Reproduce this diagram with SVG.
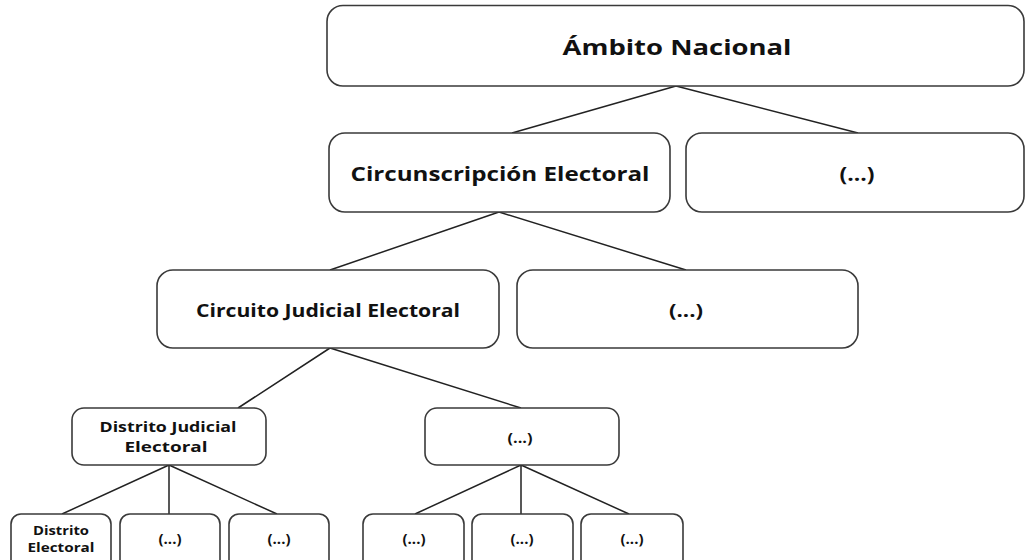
<svg xmlns="http://www.w3.org/2000/svg" width="1027" height="560" viewBox="0 0 1027 560">
<style>
.box{fill:#fff;stroke:#3a3a3a;stroke-width:1.6}
.t{font-family:"Open Sans","Liberation Sans",sans-serif;font-weight:bold;fill:#111;text-anchor:middle}
.c{stroke:#222;stroke-width:1.5;fill:none}
</style>
<rect width="1027" height="560" fill="#fff"/>
<g id="connectors">
<path class="c" d="M676 86L512 133M676 86L858 133"/>
<path class="c" d="M499 212L330 270M499 212L686 270"/>
<path class="c" d="M330 348L238 408M330 348L521 408"/>
<path class="c" d="M169 465L62 514M169 465L169 514M169 465L277 514"/>
<path class="c" d="M521 465L415 514M521 465L521 514M521 465L629 514"/>
</g>
<g id="n-ambito"><rect class="box" x="327" y="5.5" width="697" height="80.5" rx="16"/><text class="t" x="677" y="54.5" font-size="22" textLength="229" lengthAdjust="spacingAndGlyphs">Ámbito Nacional</text></g>
<g id="n-circunscripcion"><rect class="box" x="329" y="133" width="341" height="79" rx="16"/><text class="t" x="500" y="181" font-size="19.5" textLength="299" lengthAdjust="spacingAndGlyphs">Circunscripción Electoral</text></g>
<g id="n-circ-etc"><rect class="box" x="686" y="133" width="338" height="79" rx="16"/><text class="t" x="857" y="181" font-size="19.5" textLength="35" lengthAdjust="spacingAndGlyphs">(...)</text></g>
<g id="n-circuito"><rect class="box" x="157" y="270" width="342" height="78" rx="16"/><text class="t" x="328" y="317" font-size="18" textLength="264" lengthAdjust="spacingAndGlyphs">Circuito Judicial Electoral</text></g>
<g id="n-circuito-etc"><rect class="box" x="517" y="270" width="341" height="78" rx="16"/><text class="t" x="686" y="317" font-size="18" textLength="34" lengthAdjust="spacingAndGlyphs">(...)</text></g>
<g id="n-distrito-judicial"><rect class="box" x="72" y="408" width="194" height="57" rx="12"/><text class="t" x="168" y="432" font-size="14.5" textLength="137" lengthAdjust="spacingAndGlyphs">Distrito Judicial</text><text class="t" x="166" y="452" font-size="14.5" textLength="83" lengthAdjust="spacingAndGlyphs">Electoral</text></g>
<g id="n-distrito-judicial-etc"><rect class="box" x="425" y="408" width="194" height="57" rx="12"/><text class="t" x="520" y="443" font-size="14.5" textLength="25" lengthAdjust="spacingAndGlyphs">(...)</text></g>
<g id="n-de1"><rect class="box" x="11" y="514" width="100" height="56" rx="10"/><text class="t" x="61" y="535" font-size="13" textLength="56" lengthAdjust="spacingAndGlyphs">Distrito</text><text class="t" x="61" y="552" font-size="13" textLength="67" lengthAdjust="spacingAndGlyphs">Electoral</text></g>
<g id="n-de2"><rect class="box" x="120" y="514" width="100" height="56" rx="10"/><text class="t" x="170" y="544" font-size="13.5" textLength="23" lengthAdjust="spacingAndGlyphs">(...)</text></g>
<g id="n-de3"><rect class="box" x="229" y="514" width="100" height="56" rx="10"/><text class="t" x="279" y="544" font-size="13.5" textLength="23" lengthAdjust="spacingAndGlyphs">(...)</text></g>
<g id="n-de4"><rect class="box" x="363" y="514" width="101" height="56" rx="10"/><text class="t" x="414" y="544" font-size="13.5" textLength="23" lengthAdjust="spacingAndGlyphs">(...)</text></g>
<g id="n-de5"><rect class="box" x="472" y="514" width="101" height="56" rx="10"/><text class="t" x="522" y="544" font-size="13.5" textLength="23" lengthAdjust="spacingAndGlyphs">(...)</text></g>
<g id="n-de6"><rect class="box" x="581" y="514" width="102" height="56" rx="10"/><text class="t" x="632" y="544" font-size="13.5" textLength="23" lengthAdjust="spacingAndGlyphs">(...)</text></g>
</svg>
